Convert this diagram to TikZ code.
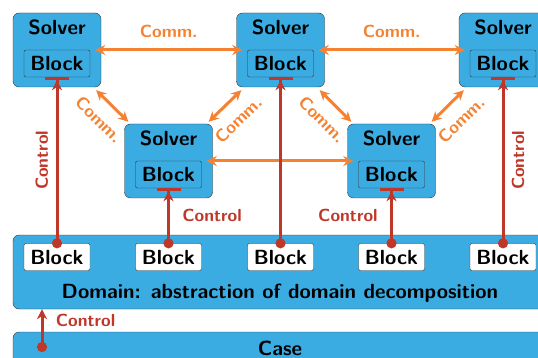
\documentclass[tikz,border=0pt]{standalone}
\usepackage{xcolor}
\usepackage{tikz}
\usetikzlibrary{arrows.meta,calc}

\definecolor{boxblue}{RGB}{59,172,226}
\definecolor{commorange}{RGB}{245,130,50}
\definecolor{ctrlred}{RGB}{190,55,40}

\tikzset{
  solverbox/.style={draw=black!80, fill=boxblue, rounded corners=6pt, minimum width=88pt, minimum height=74pt, inner sep=0pt},
  blockbox/.style={draw=black!80, fill=boxblue, rounded corners=2pt, minimum width=66pt, minimum height=27pt, inner sep=0pt, font=\sffamily\bfseries\fontsize{20.5}{24}\selectfont},
  boxtitle/.style={font=\sffamily\bfseries\fontsize{20.5}{24}\selectfont},
  lbl/.style={font=\sffamily\bfseries\fontsize{17.5}{20}\selectfont},
  comm/.style={commorange, line width=3pt, {Stealth[length=10pt,width=10pt]}-{Stealth[length=10pt,width=10pt]}},
  ctrl/.style={ctrlred, line width=3pt, shorten <=-5pt, {Circle[length=10pt]}-{Stealth[length=10pt,width=10pt] Bar[width=24pt]}}
}

\begin{document}
\begin{tikzpicture}[x=1pt,y=-1pt]
    \useasboundingbox (0,0) rectangle (538,358);
    \clip (0,0) rectangle (538,358);
    % Case and domain
    \node[solverbox, minimum width=534pt, minimum height=64pt] (case) at (280,364) {};
    \node[boxtitle] (casetxt) at (280,348) {Case};
    \node[solverbox, minimum width=534pt] (dom) at (280,272) {};
    \node[boxtitle] (domtxt) at (280,293) {Domain: abstraction of domain decomposition};
    \foreach \x/\n in {57/d1,168.5/d2,280.5/d3,391.5/d4,503/d5}
      \node[blockbox, fill=white] (\n) at (\x,257) {Block};
    % Solvers, top row and middle row
    \foreach \x/\y/\n in {57/50/s1,280.5/50/s2,503/50/s3,168.5/161/m1,391.5/161/m2} {
      \node[solverbox] (\n) at (\x,\y) {};
      \node[boxtitle] (\n t) at ($(\n)+(0,-23)$) {Solver};
      \node[blockbox] (\n b) at ($(\n)+(0,13.5)$) {Block};
    }
    % Communication
    \draw[comm] ([xshift=-6pt]s1.east) -- ([xshift=6pt]s2.west) node[midway, above=7pt, lbl] {Comm.};
    \draw[comm] ([xshift=-6pt]s2.east) -- ([xshift=6pt]s3.west) node[midway, above=7pt, lbl] {Comm.};
    \draw[comm] ([xshift=-6pt]m1.east) -- ([xshift=6pt]m2.west);
    \draw[comm] ([shift={(-5pt,-3pt)}]s1.south east) -- ([shift={(4pt,2pt)}]m1.north west) node[midway, below=8pt, sloped, lbl] {Comm.};
    \draw[comm] ([shift={(-4pt,2pt)}]m1.north east) -- ([shift={(5pt,-3pt)}]s2.south west) node[midway, below=8pt, sloped, lbl] {Comm.};
    \draw[comm] ([shift={(-5pt,-3pt)}]s2.south east) -- ([shift={(4pt,2pt)}]m2.north west) node[midway, below=8pt, sloped, lbl] {Comm.};
    \draw[comm] ([shift={(-4pt,2pt)}]m2.north east) -- ([shift={(5pt,-3pt)}]s3.south west) node[midway, below=8pt, sloped, lbl] {Comm.};
    % Control
    \draw[ctrl] (d1.north) -- (s1b.south) node[midway, above=4pt, sloped, lbl] {Control};
    \draw[ctrl] (d3.north) -- (s2b.south);
    \draw[ctrl] (d5.north) -- (s3b.south) node[midway, below=4pt, sloped, lbl] {Control};
    \draw[ctrl] (d2.north) -- (m1b.south) node[midway, right=9pt, lbl] {Control};
    \draw[ctrl] (d4.north) -- (m2b.south) node[midway, left=9pt, lbl] {Control};
    \coordinate (cstart) at (42,347);
    \draw[ctrl, {Circle[length=10pt]}-{Stealth[length=10pt,width=10pt]}] (cstart) -- (cstart |- dom.south) node[pos=0.7, right=9pt, lbl] {Control};
  \end{tikzpicture}
\end{document}
